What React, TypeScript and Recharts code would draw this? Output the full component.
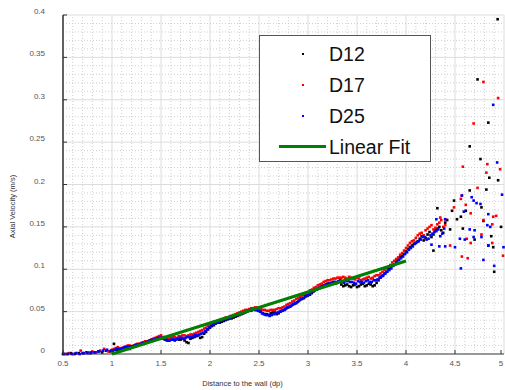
import React from 'react';
import { ScatterChart, Scatter, XAxis, YAxis, CartesianGrid, ReferenceLine } from 'recharts';

// axis ticks
const xTicks = [0.5, 1, 1.5, 2, 2.5, 3, 3.5, 4, 4.5, 5];
const yTicks = [0, 0.05, 0.1, 0.15, 0.2, 0.25, 0.3, 0.35, 0.4];
const xMinor = [0.6, 0.7, 0.8, 0.9, 1.1, 1.2, 1.3, 1.4, 1.6, 1.7, 1.8, 1.9, 2.1, 2.2, 2.3, 2.4, 2.6, 2.7, 2.8, 2.9,
  3.1, 3.2, 3.3, 3.4, 3.6, 3.7, 3.8, 3.9, 4.1, 4.2, 4.3, 4.4, 4.6, 4.7, 4.8, 4.9];
const yMinor = [0.01, 0.02, 0.03, 0.04, 0.06, 0.07, 0.08, 0.09, 0.11, 0.12, 0.13, 0.14, 0.16, 0.17, 0.18, 0.19,
  0.21, 0.22, 0.23, 0.24, 0.26, 0.27, 0.28, 0.29, 0.31, 0.32, 0.33, 0.34, 0.36, 0.37, 0.38, 0.39];

// [distance (dp), axial velocity (m/s)]
const D12: [number, number][] = [
  [0.50, 0.000], [0.54, 0.000], [0.58, 0.001], [0.62, 0.000], [0.66, 0.001], [0.70, 0.001], [0.74, 0.002],
  [0.78, 0.001], [0.82, 0.002], [0.86, 0.003], [0.90, 0.002], [0.94, 0.004], [0.98, 0.003], [1.02, 0.012],
  [1.06, 0.004], [1.10, 0.005], [1.14, 0.007], [1.18, 0.006], [1.22, 0.009], [1.26, 0.010], [1.30, 0.011],
  [1.34, 0.013], [1.38, 0.015], [1.42, 0.016], [1.46, 0.018], [1.50, 0.019], [1.54, 0.017], [1.58, 0.016],
  [1.62, 0.017], [1.66, 0.018], [1.70, 0.017], [1.74, 0.016], [1.78, 0.013], [1.82, 0.019], [1.86, 0.021],
  [1.90, 0.019], [1.94, 0.024], [1.98, 0.029], [2.02, 0.033], [2.06, 0.036], [2.10, 0.037], [2.14, 0.039],
  [2.18, 0.041], [2.22, 0.042], [2.26, 0.044], [2.30, 0.046], [2.34, 0.048], [2.38, 0.050], [2.42, 0.051],
  [2.46, 0.052], [2.50, 0.051], [2.54, 0.048], [2.58, 0.047], [2.62, 0.048], [2.66, 0.049], [2.70, 0.048],
  [2.74, 0.051], [2.78, 0.054], [2.82, 0.056], [2.86, 0.059], [2.90, 0.062], [2.94, 0.065], [2.98, 0.068],
  [3.02, 0.070], [3.06, 0.074], [3.10, 0.077], [3.14, 0.080], [3.18, 0.082], [3.22, 0.083], [3.26, 0.085],
  [3.30, 0.084], [3.34, 0.082], [3.38, 0.081], [3.42, 0.080], [3.46, 0.081], [3.50, 0.079], [3.54, 0.082],
  [3.58, 0.080], [3.62, 0.083], [3.66, 0.080], [3.70, 0.084], [3.74, 0.090], [3.78, 0.095], [3.82, 0.100],
  [3.86, 0.104], [3.90, 0.109], [3.94, 0.114], [3.98, 0.118], [4.02, 0.124], [4.06, 0.128], [4.10, 0.131],
  [4.14, 0.136], [4.18, 0.134], [4.22, 0.141], [4.26, 0.138], [4.30, 0.146], [4.34, 0.150], [4.38, 0.143],
  [1.00, 0.004], [1.04, 0.005], [1.08, 0.006], [1.12, 0.005], [1.16, 0.008], [1.20, 0.009], [1.24, 0.009],
  [1.28, 0.011], [1.32, 0.012], [1.36, 0.014], [1.40, 0.016], [1.44, 0.018], [1.48, 0.019], [1.52, 0.018],
  [1.56, 0.016], [1.60, 0.018], [1.64, 0.016], [1.68, 0.017], [1.72, 0.018], [1.76, 0.014], [1.80, 0.018],
  [1.84, 0.020], [1.88, 0.022], [1.92, 0.020], [1.96, 0.026], [2.00, 0.031], [2.04, 0.034], [2.08, 0.037],
  [2.12, 0.038], [2.16, 0.040], [2.20, 0.042], [2.24, 0.043], [2.28, 0.045], [2.32, 0.047], [2.36, 0.049],
  [2.40, 0.051], [2.44, 0.053], [2.48, 0.052], [2.52, 0.050], [2.56, 0.047], [2.60, 0.046], [2.64, 0.049],
  [2.68, 0.047], [2.72, 0.050], [2.76, 0.052], [2.80, 0.055], [2.84, 0.058], [2.88, 0.060], [2.92, 0.064],
  [2.96, 0.066], [3.00, 0.069], [3.04, 0.072], [3.08, 0.076], [3.12, 0.078], [3.16, 0.081], [3.20, 0.083],
  [3.24, 0.084], [3.28, 0.083], [3.32, 0.086], [3.36, 0.080], [3.40, 0.082], [3.44, 0.079], [3.48, 0.082],
  [3.52, 0.080], [3.56, 0.083], [3.60, 0.081], [3.64, 0.082], [3.68, 0.081], [3.72, 0.087], [3.76, 0.092],
  [3.80, 0.097], [3.84, 0.102], [3.88, 0.106], [3.92, 0.111], [3.96, 0.116], [4.00, 0.121], [4.04, 0.126],
  [4.08, 0.130], [4.12, 0.133], [4.16, 0.139], [4.20, 0.137], [4.24, 0.144], [4.28, 0.141], [4.32, 0.148],
  [4.36, 0.146], [4.40, 0.155],
  [4.28, 0.122], [4.32, 0.172], [4.42, 0.158], [4.45, 0.147], [4.47, 0.169], [4.49, 0.181], [4.52, 0.159],
  [4.56, 0.162], [4.58, 0.148], [4.61, 0.169], [4.65, 0.193], [4.65, 0.245], [4.70, 0.135], [4.73, 0.324],
  [4.76, 0.230], [4.77, 0.173], [4.79, 0.157], [4.82, 0.194], [4.84, 0.273], [4.84, 0.128], [4.85, 0.208],
  [4.87, 0.139], [4.89, 0.126], [4.90, 0.097], [4.935, 0.395], [4.94, 0.205], [4.97, 0.150],
];

const D17: [number, number][] = [
  [0.52, 0.000], [0.56, 0.001], [0.60, 0.000], [0.64, 0.001], [0.68, 0.004], [0.72, 0.001], [0.76, 0.002],
  [0.80, 0.003], [0.84, 0.002], [0.88, 0.004], [0.92, 0.006], [0.96, 0.003], [1.00, 0.005], [1.04, 0.007],
  [1.08, 0.006], [1.12, 0.008], [1.16, 0.010], [1.20, 0.009], [1.24, 0.011], [1.28, 0.012], [1.32, 0.014],
  [1.36, 0.015], [1.40, 0.017], [1.44, 0.019], [1.48, 0.021], [1.52, 0.020], [1.56, 0.019], [1.60, 0.019],
  [1.64, 0.020], [1.68, 0.021], [1.72, 0.022], [1.76, 0.021], [1.80, 0.023], [1.84, 0.024], [1.88, 0.026],
  [1.92, 0.028], [1.96, 0.031], [2.00, 0.035], [2.04, 0.038], [2.08, 0.039], [2.12, 0.041], [2.16, 0.043],
  [2.20, 0.044], [2.24, 0.046], [2.28, 0.048], [2.32, 0.050], [2.36, 0.052], [2.40, 0.053], [2.44, 0.054],
  [2.48, 0.055], [2.52, 0.053], [2.56, 0.052], [2.60, 0.051], [2.64, 0.052], [2.68, 0.053], [2.72, 0.054],
  [2.76, 0.056], [2.80, 0.059], [2.84, 0.062], [2.88, 0.065], [2.92, 0.067], [2.96, 0.070], [3.00, 0.073],
  [3.04, 0.076], [3.08, 0.079], [3.12, 0.082], [3.16, 0.085], [3.20, 0.087], [3.24, 0.088], [3.28, 0.089],
  [3.32, 0.090], [3.36, 0.091], [3.40, 0.089], [3.44, 0.090], [3.48, 0.088], [3.52, 0.089], [3.56, 0.088],
  [3.60, 0.090], [3.64, 0.089], [3.68, 0.092], [3.72, 0.093], [3.76, 0.097], [3.80, 0.101], [3.84, 0.105],
  [3.88, 0.110], [3.92, 0.114], [3.96, 0.119], [4.00, 0.125], [4.04, 0.131], [4.08, 0.134], [4.12, 0.140],
  [4.16, 0.143], [4.20, 0.146], [4.24, 0.150], [4.28, 0.147], [4.32, 0.153], [4.36, 0.158], [4.40, 0.152],
  [1.02, 0.006], [1.06, 0.008], [1.10, 0.007], [1.14, 0.009], [1.18, 0.010], [1.22, 0.010], [1.26, 0.012],
  [1.30, 0.013], [1.34, 0.015], [1.38, 0.016], [1.42, 0.018], [1.46, 0.020], [1.50, 0.022], [1.54, 0.020],
  [1.58, 0.018], [1.62, 0.020], [1.66, 0.019], [1.70, 0.021], [1.74, 0.022], [1.78, 0.022], [1.82, 0.023],
  [1.86, 0.025], [1.90, 0.027], [1.94, 0.030], [1.98, 0.033], [2.02, 0.036], [2.06, 0.038], [2.10, 0.040],
  [2.14, 0.042], [2.18, 0.043], [2.22, 0.045], [2.26, 0.047], [2.30, 0.049], [2.34, 0.051], [2.38, 0.052],
  [2.42, 0.054], [2.46, 0.055], [2.50, 0.054], [2.54, 0.052], [2.58, 0.051], [2.62, 0.052], [2.66, 0.052],
  [2.70, 0.054], [2.74, 0.055], [2.78, 0.058], [2.82, 0.060], [2.86, 0.063], [2.90, 0.066], [2.94, 0.069],
  [2.98, 0.071], [3.02, 0.075], [3.06, 0.078], [3.10, 0.081], [3.14, 0.083], [3.18, 0.086], [3.22, 0.087],
  [3.26, 0.089], [3.30, 0.090], [3.34, 0.090], [3.38, 0.090], [3.42, 0.091], [3.46, 0.089], [3.50, 0.090],
  [3.54, 0.087], [3.58, 0.089], [3.62, 0.091], [3.66, 0.090], [3.70, 0.093], [3.74, 0.095], [3.78, 0.099],
  [3.82, 0.103], [3.86, 0.108], [3.90, 0.112], [3.94, 0.117], [3.98, 0.122], [4.02, 0.128], [4.06, 0.133],
  [4.10, 0.137], [4.14, 0.142], [4.18, 0.140], [4.22, 0.148], [4.26, 0.152], [4.30, 0.149], [4.34, 0.155],
  [4.38, 0.150],
  [4.35, 0.161], [4.40, 0.159], [4.45, 0.128], [4.49, 0.173], [4.56, 0.183], [4.57, 0.187], [4.57, 0.115],
  [4.58, 0.221], [4.61, 0.176], [4.62, 0.136], [4.63, 0.113], [4.66, 0.131], [4.66, 0.166], [4.69, 0.272],
  [4.73, 0.196], [4.77, 0.141], [4.79, 0.158], [4.79, 0.321], [4.82, 0.214], [4.83, 0.224], [4.88, 0.153],
  [4.88, 0.131], [4.89, 0.162], [4.92, 0.163], [4.94, 0.302], [4.96, 0.218], [4.99, 0.116],
];

const D25: [number, number][] = [
  [0.51, 0.000], [0.55, 0.000], [0.59, 0.000], [0.63, 0.001], [0.67, 0.000], [0.71, 0.001], [0.75, 0.001],
  [0.79, 0.002], [0.83, 0.002], [0.87, 0.003], [0.91, 0.004], [0.95, 0.005], [0.99, 0.004], [1.03, 0.005],
  [1.07, 0.006], [1.11, 0.007], [1.15, 0.008], [1.19, 0.009], [1.23, 0.010], [1.27, 0.011], [1.31, 0.013],
  [1.35, 0.014], [1.39, 0.016], [1.43, 0.017], [1.47, 0.019], [1.51, 0.019], [1.55, 0.017], [1.59, 0.016],
  [1.63, 0.017], [1.67, 0.018], [1.71, 0.019], [1.75, 0.019], [1.79, 0.020], [1.83, 0.021], [1.87, 0.022],
  [1.91, 0.024], [1.95, 0.027], [1.99, 0.031], [2.03, 0.035], [2.07, 0.037], [2.11, 0.039], [2.15, 0.041],
  [2.19, 0.042], [2.23, 0.044], [2.27, 0.046], [2.31, 0.048], [2.35, 0.049], [2.39, 0.051], [2.43, 0.052],
  [2.47, 0.052], [2.51, 0.050], [2.55, 0.047], [2.59, 0.046], [2.63, 0.046], [2.67, 0.048], [2.71, 0.050],
  [2.75, 0.052], [2.79, 0.055], [2.83, 0.057], [2.87, 0.060], [2.91, 0.063], [2.95, 0.066], [2.99, 0.069],
  [3.03, 0.072], [3.07, 0.075], [3.11, 0.078], [3.15, 0.080], [3.19, 0.082], [3.23, 0.083], [3.27, 0.085],
  [3.31, 0.086], [3.35, 0.085], [3.39, 0.086], [3.43, 0.085], [3.47, 0.084], [3.51, 0.086], [3.55, 0.085],
  [3.59, 0.086], [3.63, 0.085], [3.67, 0.087], [3.71, 0.088], [3.75, 0.092], [3.79, 0.095], [3.83, 0.099],
  [3.87, 0.104], [3.91, 0.108], [3.95, 0.113], [3.99, 0.118], [4.03, 0.123], [4.07, 0.127], [4.11, 0.132],
  [4.15, 0.135], [4.19, 0.138], [4.23, 0.136], [4.27, 0.142], [4.31, 0.145], [4.35, 0.139], [4.39, 0.148],
  [1.01, 0.004], [1.05, 0.006], [1.09, 0.006], [1.13, 0.008], [1.17, 0.009], [1.21, 0.009], [1.25, 0.011],
  [1.29, 0.012], [1.33, 0.013], [1.37, 0.015], [1.41, 0.017], [1.45, 0.018], [1.49, 0.019], [1.53, 0.018],
  [1.57, 0.016], [1.61, 0.017], [1.65, 0.017], [1.69, 0.019], [1.73, 0.018], [1.77, 0.020], [1.81, 0.020],
  [1.85, 0.022], [1.89, 0.023], [1.93, 0.025], [1.97, 0.029], [2.01, 0.033], [2.05, 0.036], [2.09, 0.038],
  [2.13, 0.040], [2.17, 0.041], [2.21, 0.043], [2.25, 0.045], [2.29, 0.047], [2.33, 0.048], [2.37, 0.050],
  [2.41, 0.052], [2.45, 0.053], [2.49, 0.051], [2.53, 0.048], [2.57, 0.046], [2.61, 0.045], [2.65, 0.047],
  [2.69, 0.049], [2.73, 0.051], [2.77, 0.053], [2.81, 0.056], [2.85, 0.059], [2.89, 0.061], [2.93, 0.065],
  [2.97, 0.068], [3.01, 0.070], [3.05, 0.074], [3.09, 0.076], [3.13, 0.079], [3.17, 0.081], [3.21, 0.083],
  [3.25, 0.084], [3.29, 0.085], [3.33, 0.087], [3.37, 0.084], [3.41, 0.086], [3.45, 0.085], [3.49, 0.083],
  [3.53, 0.085], [3.57, 0.084], [3.61, 0.087], [3.65, 0.085], [3.69, 0.087], [3.73, 0.090], [3.77, 0.093],
  [3.81, 0.097], [3.85, 0.101], [3.89, 0.106], [3.93, 0.111], [3.97, 0.115], [4.01, 0.120], [4.05, 0.125],
  [4.09, 0.130], [4.13, 0.133], [4.17, 0.138], [4.21, 0.135], [4.25, 0.140], [4.29, 0.144], [4.33, 0.147],
  [4.37, 0.142],
  [4.26, 0.129], [4.31, 0.159], [4.34, 0.127], [4.40, 0.127], [4.40, 0.159], [4.50, 0.126], [4.55, 0.136],
  [4.56, 0.101], [4.57, 0.187], [4.59, 0.168], [4.60, 0.135], [4.65, 0.147], [4.67, 0.185], [4.69, 0.181],
  [4.69, 0.138], [4.70, 0.146], [4.72, 0.178], [4.76, 0.177], [4.77, 0.138], [4.79, 0.111], [4.83, 0.152],
  [4.84, 0.165], [4.84, 0.128], [4.86, 0.150], [4.89, 0.294], [4.90, 0.104], [4.93, 0.226], [4.98, 0.188],
  [4.995, 0.126],
];

const fitX = [1.0, 4.0];
const fitY = [0.0, 0.1098];

const toPts = (arr: [number, number][]) => arr.map(([x, y]) => ({ x, y }));
const fitData = fitX.map((x, i) => ({ x, y: fitY[i] }));

const FONT = '"Liberation Sans", Arial, sans-serif';

const dot = (color: string) => (p: any) => (
  <rect x={p.cx - 1.3} y={p.cy - 1.3} width={2.6} height={2.6} fill={color} />
);

const YTick = ({ x, y, payload }: any) => (
  <g>
    <text x={x} y={y} dy={-1} textAnchor="end" fontSize={8} fill="#555" fontFamily={FONT}>
      {payload.value}
    </text>
    <line x1={x + 18} x2={x + 22} y1={y} y2={y} stroke="#333" />
  </g>
);

const XTick = ({ x, y, payload }: any) => (
  <g>
    <text x={x} y={y} dy="0.71em" textAnchor="middle" fontSize={8} fill="#555" fontFamily={FONT}>
      {payload.value}
    </text>
    <line x1={x} x2={x} y1={y - 6} y2={y - 10} stroke="#333" />
  </g>
);

const legendRows = [
  { name: 'D12', color: '#000000' },
  { name: 'D17', color: '#ff0000' },
  { name: 'D25', color: '#0000ff' },
];

const LegendBox = () => (
  <div
    style={{
      position: 'absolute', left: 259, top: 35, width: 170, height: 125,
      border: '1px solid #555', background: '#fff', fontFamily: FONT, fontSize: 19.5, color: '#111',
    }}
  >
    {legendRows.map((r, i) => (
      <div key={r.name} style={{ position: 'absolute', left: 0, top: 6 + i * 31, height: 24, width: '100%' }}>
        <div style={{ position: 'absolute', left: 42, top: 11, width: 2, height: 2, background: r.color }} />
        <div style={{ position: 'absolute', left: 69, top: 0, lineHeight: '24px' }}>{r.name}</div>
      </div>
    ))}
    <div style={{ position: 'absolute', left: 0, top: 99, height: 24, width: '100%' }}>
      <div style={{ position: 'absolute', left: 19, top: 10, width: 47, height: 3, background: '#008000' }} />
      <div style={{ position: 'absolute', left: 69, top: 0, lineHeight: '24px' }}>Linear Fit</div>
    </div>
  </div>
);

export default function App() {
  return (
    <div style={{ position: 'absolute', left: 0, top: 0, width: 505, height: 390, background: '#fff' }}>
      <ScatterChart width={505} height={390} margin={{ top: 15, right: 1, bottom: 0, left: 0 }}>
        <CartesianGrid stroke="#dcdcdc" />
        {xMinor.map((v) => (
          <ReferenceLine key={'x' + v} x={v} stroke="#d0d0d0" strokeDasharray="1 2" />
        ))}
        {yMinor.map((v) => (
          <ReferenceLine key={'y' + v} y={v} stroke="#d0d0d0" strokeDasharray="1 2" />
        ))}
        <XAxis
          type="number"
          dataKey="x"
          domain={[0.5, 5]}
          ticks={xTicks}
          height={36}
          tickSize={6}
          tickMargin={0}
          tickLine={false}
          axisLine={{ stroke: '#444' }}
          tick={<XTick />}
          label={{
            value: 'Distance to the wall (dp)', position: 'insideBottom', offset: 4, dx: -41,
            fontSize: 7.5, fill: '#333', fontFamily: FONT,
          }}
        />
        <YAxis
          type="number"
          dataKey="y"
          domain={[0, 0.4]}
          ticks={yTicks}
          width={63}
          tickSize={6}
          tickMargin={12}
          tickLine={false}
          axisLine={{ stroke: '#333', strokeWidth: 1.5 }}
          tick={<YTick />}
          label={{
            value: 'Axial Velocity (m/s)', angle: -90, position: 'center', dx: -19.5, dy: 22,
            fontSize: 7.5, fill: '#333', fontFamily: FONT,
          }}
        />
        <Scatter name="D12" data={toPts(D12)} shape={dot('#000000')} isAnimationActive={false} />
        <Scatter name="D17" data={toPts(D17)} shape={dot('#ff0000')} isAnimationActive={false} />
        <Scatter name="D25" data={toPts(D25)} shape={dot('#0000ff')} isAnimationActive={false} />
        <Scatter
          name="Linear Fit"
          data={fitData}
          line={{ stroke: '#008000', strokeWidth: 3 }}
          shape={() => null}
          isAnimationActive={false}
        />
      </ScatterChart>
      <LegendBox />
    </div>
  );
}
